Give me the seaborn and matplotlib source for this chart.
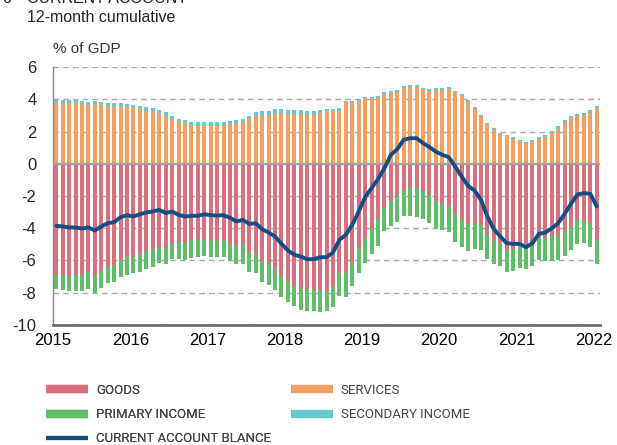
import pandas as pd
import seaborn as sns
import matplotlib.pyplot as plt
from matplotlib.lines import Line2D

# 12-month cumulative components, % of GDP, monthly Jan 2015 - Jan 2022
services = [3.77, 3.77, 3.77, 3.77, 3.71, 3.64, 3.71, 3.64, 3.58, 3.62,
            3.58, 3.50, 3.50, 3.42, 3.31, 3.25, 3.15, 2.98, 2.77, 2.63,
            2.53, 2.44, 2.40, 2.40, 2.40, 2.42, 2.42, 2.48, 2.53, 2.61,
            2.77, 2.94, 2.98, 3.04, 3.11, 3.15, 3.08, 3.11, 3.11, 3.06,
            3.04, 3.15, 3.25, 3.25, 3.27, 3.81, 3.81, 3.89, 4.08, 4.08,
            4.10, 4.35, 4.41, 4.49, 4.72, 4.80, 4.80, 4.62, 4.55, 4.58,
            4.58, 4.62, 4.43, 4.22, 3.85, 3.40, 2.94, 2.46, 2.11, 1.86,
            1.70, 1.57, 1.41, 1.28, 1.35, 1.53, 1.66, 1.90, 2.19, 2.57,
            2.86, 2.98, 3.04, 3.15, 3.48]
secondary_income = [0.17, 0.17, 0.17, 0.17, 0.17, 0.17, 0.17, 0.17, 0.17, 0.17,
                    0.21, 0.21, 0.17, 0.19, 0.19, 0.21, 0.21, 0.21, 0.21, 0.14,
                    0.17, 0.17, 0.21, 0.17, 0.19, 0.19, 0.19, 0.17, 0.21, 0.19,
                    0.21, 0.25, 0.27, 0.25, 0.29, 0.27, 0.27, 0.25, 0.25, 0.25,
                    0.27, 0.21, 0.14, 0.14, 0.17, 0.12, 0.12, 0.12, 0.10, 0.10,
                    0.12, 0.12, 0.12, 0.10, 0.12, 0.12, 0.12, 0.10, 0.12, 0.10,
                    0.10, 0.12, 0.12, 0.12, 0.12, 0.12, 0.12, 0.10, 0.12, 0.08,
                    0.08, 0.08, 0.08, 0.08, 0.10, 0.12, 0.14, 0.12, 0.17, 0.17,
                    0.12, 0.12, 0.14, 0.17, 0.12]
goods = [-6.89, -6.92, -7.00, -6.89, -6.89, -6.69, -6.96, -6.65, -6.34, -6.27,
         -5.96, -5.76, -5.80, -5.59, -5.42, -5.30, -5.18, -5.18, -4.89, -4.84,
         -4.89, -4.72, -4.76, -4.68, -4.72, -4.78, -4.72, -4.89, -5.09, -5.05,
         -5.49, -5.59, -6.05, -6.21, -6.54, -6.96, -7.29, -7.58, -7.78, -7.78,
         -7.89, -7.83, -7.87, -7.58, -6.79, -6.79, -6.07, -5.24, -4.62, -4.06,
         -3.52, -2.75, -2.28, -1.95, -1.61, -1.51, -1.51, -1.66, -1.93, -2.28,
         -2.48, -2.65, -3.11, -3.44, -3.73, -3.69, -3.79, -4.35, -4.80, -4.93,
         -5.34, -5.30, -5.09, -5.13, -5.09, -4.62, -4.58, -4.51, -4.51, -4.20,
         -3.85, -3.48, -3.48, -3.69, -4.72]
primary_income = [-0.89, -0.91, -0.91, -1.01, -1.01, -1.10, -1.04, -1.08, -1.08, -1.10,
                  -1.08, -1.14, -0.99, -1.10, -1.10, -1.08, -0.95, -1.04, -1.04, -1.08,
                  -1.08, -1.14, -1.04, -1.04, -1.04, -1.01, -1.04, -1.12, -1.12, -1.16,
                  -1.20, -1.20, -1.26, -1.30, -1.28, -1.28, -1.28, -1.28, -1.28, -1.39,
                  -1.28, -1.35, -1.30, -1.33, -1.41, -1.49, -1.51, -1.55, -1.55, -1.55,
                  -1.57, -1.45, -1.57, -1.64, -1.66, -1.76, -1.80, -1.74, -1.72, -1.72,
                  -1.61, -1.61, -1.72, -1.70, -1.66, -1.61, -1.55, -1.53, -1.41, -1.41,
                  -1.37, -1.33, -1.37, -1.41, -1.24, -1.35, -1.43, -1.51, -1.49, -1.51,
                  -1.53, -1.49, -1.45, -1.45, -1.53]
current_account = [-3.85, -3.89, -3.95, -3.95, -4.02, -3.95, -4.14, -3.89, -3.69, -3.62,
                   -3.31, -3.19, -3.27, -3.13, -3.02, -2.96, -2.86, -3.06, -2.96, -3.17,
                   -3.27, -3.23, -3.23, -3.13, -3.19, -3.21, -3.19, -3.35, -3.58, -3.48,
                   -3.73, -3.69, -4.06, -4.27, -4.51, -4.97, -5.38, -5.65, -5.76, -5.92,
                   -5.92, -5.80, -5.80, -5.51, -4.72, -4.41, -3.79, -2.96, -2.07, -1.51,
                   -0.95, -0.27, 0.56, 0.91, 1.49, 1.59, 1.59, 1.28, 1.04, 0.75,
                   0.56, 0.41, -0.17, -0.79, -1.37, -1.66, -2.24, -3.27, -4.06, -4.51,
                   -4.93, -4.97, -4.97, -5.18, -4.93, -4.35, -4.27, -4.00, -3.69, -3.11,
                   -2.48, -1.90, -1.82, -1.86, -2.65]

year_ticks = [2015, 2016, 2017, 2018, 2019, 2020, 2021, 2022]
y_ticks = [6, 4, 2, 0, -2, -4, -6, -8, -10]

c_goods = '#d9707d'
c_serv = '#f5a063'
c_prim = '#60be6b'
c_sec = '#64c8cf'
c_ca = '#124e86'

months = pd.date_range('2015-01-01', periods=len(goods), freq='MS')
df = pd.DataFrame({'month': months, 'goods': goods, 'services': services,
                   'primary': primary_income, 'secondary': secondary_income,
                   'ca': current_account})
df['x'] = df['month'].dt.year + (df['month'].dt.month - 0.5) / 12

sns.set_theme(style='white')
plt.rcParams['font.family'] = ['Liberation Sans', 'DejaVu Sans']
plt.rcParams['axes.unicode_minus'] = False

fig = plt.figure(figsize=(6.17, 4.45), dpi=100)
ax = fig.add_axes([0.086, 0.270, 0.886, 0.579])

w = 0.62 / 12
ax.bar(df['x'], df['services'], width=w, color=c_serv, lw=0, zorder=2)
ax.bar(df['x'], df['secondary'], bottom=df['services'], width=w, color=c_sec, lw=0, zorder=2)
ax.bar(df['x'], df['goods'], width=w, color=c_goods, lw=0, zorder=2)
ax.bar(df['x'], df['primary'], bottom=df['goods'], width=w, color=c_prim, lw=0, zorder=2)
ax.axhline(0, color='#a0a0a0', lw=1.6, zorder=3)
sns.lineplot(data=df, x='x', y='ca', ax=ax, color=c_ca, lw=2.8, zorder=4)

ax.set_xlim(2015, 2022.08)
ax.set_ylim(-10, 6)
ax.set_yticks(y_ticks)
ax.set_xticks(year_ticks)
ax.set_xticklabels([str(y) for y in year_ticks])
ax.yaxis.grid(True, ls=(0, (4, 3)), color='#a8a8a8', lw=1, zorder=0)
ax.set_axisbelow(True)
ax.set_xlabel('')
ax.set_ylabel('')

sns.despine(ax=ax)
ax.spines['left'].set_color('#888888')
ax.spines['left'].set_linewidth(1)
ax.spines['bottom'].set_color('#6e6e6e')
ax.spines['bottom'].set_linewidth(2)
ax.tick_params(axis='x', direction='in', length=5, width=1, color='#999999',
               pad=6, labelsize=12, labelcolor='black')
ax.tick_params(axis='y', length=0, pad=12, labelsize=12)

fig.text(0.004, 1 - 3 / 445, '6', fontsize=11.5, va='baseline', color='#222222')
fig.text(0.044, 1 - 3 / 445, 'CURRENT ACCOUNT', fontsize=11.5, va='baseline', color='#222222')
fig.text(0.044, 1 - 22 / 445, '12-month cumulative', fontsize=11.5, va='baseline', color='#222222')
fig.text(0.086, 1 - 53 / 445, '% of GDP', fontsize=11, va='baseline', color='#333333')

leg_prop = {'family': ['Roboto', 'Liberation Sans'], 'size': 9.5}
leg_kw = dict(loc='upper left', frameon=False, prop=leg_prop, borderpad=0,
              borderaxespad=0, handlelength=3.2, handletextpad=0.55,
              labelspacing=0.85, labelcolor='#444444')

left_handles = [Line2D([], [], color=c_goods, lw=6, solid_capstyle='butt'),
                Line2D([], [], color=c_prim, lw=6, solid_capstyle='butt'),
                Line2D([], [], color=c_ca, lw=3, solid_capstyle='butt')]
left_labels = ['GOODS', 'PRIMARY INCOME', 'CURRENT ACCOUNT BLANCE']
right_handles = [Line2D([], [], color=c_serv, lw=6, solid_capstyle='butt'),
                 Line2D([], [], color=c_sec, lw=6, solid_capstyle='butt')]
right_labels = ['SERVICES', 'SECONDARY INCOME']

leg1 = fig.legend(left_handles, left_labels, bbox_to_anchor=(0.075, 1 - 384 / 445), **leg_kw)
fig.add_artist(leg1)
fig.legend(right_handles, right_labels, bbox_to_anchor=(0.472, 1 - 384 / 445), **leg_kw)

fig.savefig('out.png', dpi=100)
